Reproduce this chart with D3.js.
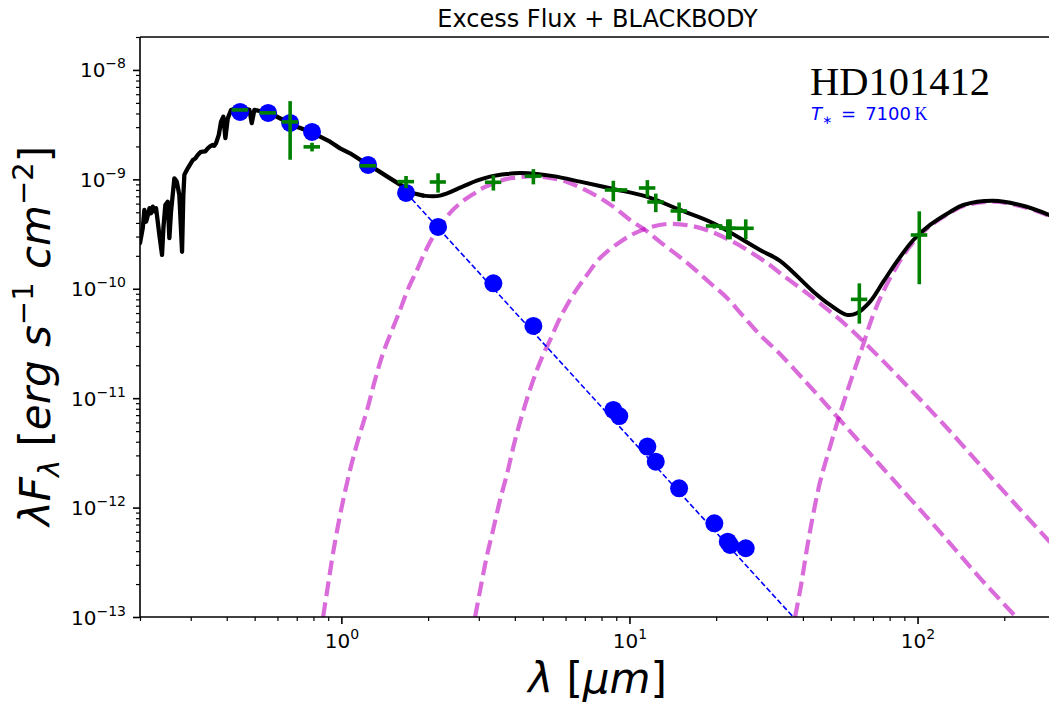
<!DOCTYPE html>
<html>
<head>
<meta charset="utf-8">
<script src="https://cdn.jsdelivr.net/npm/d3@7"></script>
<style>
  html, body { margin: 0; padding: 0; background: #fff; }
  svg { display: block; font-family: "DejaVu Sans", sans-serif; }
</style>
</head>
<body>
<svg id="chart" width="1049" height="706"></svg>
<script>
// ---- Axis ranges and tick labels ----
const xDomain = [0.2, 300];            // wavelength, micron
const yDomain = [1e-13, 2e-8];         // lambda*F_lambda, erg s^-1 cm^-2
const xMajor = [1, 10, 100];
const xMajorExp = ["0", "1", "2"];
const yMajor = [1e-13, 1e-12, 1e-11, 1e-10, 1e-9, 1e-8];
const yMajorExp = ["\u221213", "\u221212", "\u221211", "\u221210", "\u22129", "\u22128"];
const minorMult = [2, 3, 4, 5, 6, 7, 8, 9];

// ---- Stellar spectrum (noisy model atmosphere), micron / erg s^-1 cm^-2 ----
const specWave = [0.200, 0.2045, 0.2071, 0.2100, 0.2125, 0.2157, 0.2185, 0.2215, 0.2245, 0.2274,
  0.2305, 0.2335, 0.2385, 0.2411, 0.2449, 0.2496, 0.2529, 0.2563, 0.2632, 0.2683,
  0.2739, 0.2799, 0.2828, 0.2851, 0.2929, 0.3049, 0.3110, 0.3173, 0.3240, 0.3303,
  0.3370, 0.3438, 0.3510, 0.3577, 0.3620, 0.3673, 0.3754, 0.3823, 0.3894, 0.3957,
  0.4034, 0.4141, 0.4309, 0.4547, 0.4794, 0.4887, 0.4989, 0.5656, 0.6289, 0.7002,
  0.7786, 0.8435, 0.9137, 0.9897, 1.072, 1.192, 1.327, 1.476, 1.641, 1.778, 1.926];
const specFlux = [2.62e-10, 3.60e-10, 5.25e-10, 4.10e-10, 4.60e-10, 5.45e-10, 4.90e-10, 5.63e-10, 5.10e-10, 5.45e-10,
  4.10e-10, 3.10e-10, 2.04e-10, 3.57e-10, 5.83e-10, 6.25e-10, 2.90e-10, 5.07e-10, 1.02e-9, 9.53e-10,
  7.19e-10, 2.18e-10, 7.19e-10, 1.10e-9, 1.26e-9, 1.50e-9, 1.55e-9, 1.67e-9, 1.77e-9, 1.79e-9,
  1.80e-9, 1.92e-9, 2.01e-9, 2.06e-9, 2.03e-9, 2.14e-9, 2.55e-9, 3.37e-9, 3.74e-9, 2.38e-9,
  3.61e-9, 4.31e-9, 4.47e-9, 4.47e-9, 4.31e-9, 3.26e-9, 4.31e-9, 4.02e-9, 3.49e-9, 3.03e-9,
  2.73e-9, 2.46e-9, 2.21e-9, 1.92e-9, 1.73e-9, 1.45e-9, 1.22e-9, 1.02e-9, 8.57e-10, 7.46e-10, 7.10e-10];

// ---- Total model (star + three blackbodies) beyond the optical ----
const modelWave = [1.926, 2.201, 2.624, 2.951, 3.282, 3.751, 4.172, 4.767, 5.443, 6.737,
  8.794, 11.48, 14.98, 19.55, 28.40, 33.32, 43.49, 49.70, 56.79, 61.51,
  68.42, 76.07, 84.71, 96.69, 110.5, 129.7, 144.2, 183.3, 226.9, 286.1, 300];
const modelFlux = [7.10e-10, 7.10e-10, 8.53e-10, 9.73e-10, 1.06e-9, 1.12e-9, 1.14e-9, 1.12e-9, 1.07e-9, 9.53e-10,
  8.17e-10, 6.95e-10, 5.25e-10, 3.97e-10, 2.26e-10, 1.80e-10, 9.40e-11, 7.11e-11, 5.77e-11, 5.97e-11,
  7.62e-11, 1.16e-10, 1.77e-10, 2.79e-10, 3.83e-10, 5.04e-10, 5.83e-10, 6.38e-10, 5.83e-10, 4.73e-10, 4.44e-10];

// ---- Blackbody components ----
const bb1Wave = [0.864, 0.899, 0.936, 0.998, 1.072, 1.143, 1.228, 1.309, 1.396, 1.500,
  1.599, 1.704, 1.831, 1.952, 2.081, 2.237, 2.384, 2.542, 2.732, 2.912,
  3.104, 3.416, 3.759, 4.172, 4.628, 5.302, 6.072, 6.901, 7.906, 8.913,
  10.05, 11.33, 12.77, 14.63, 16.63, 19.05, 21.82, 24.79, 28.40, 32.54,
  36.98, 43.39, 56.93, 74.11, 96.46, 126.6, 164.8, 219.8];
const bb1Flux = [1.00e-13, 1.96e-13, 3.85e-13, 9.51e-13, 2.21e-12, 4.15e-12, 7.80e-12, 1.47e-11, 2.59e-11, 4.20e-11,
  6.40e-11, 9.96e-11, 1.49e-10, 2.17e-10, 2.98e-10, 3.91e-10, 4.93e-10, 5.83e-10, 6.76e-10, 7.51e-10,
  8.34e-10, 9.27e-10, 1.01e-9, 1.05e-9, 1.07e-9, 1.03e-9, 9.47e-10, 8.17e-10, 6.76e-10, 5.48e-10,
  4.25e-10, 3.45e-10, 2.68e-10, 2.04e-10, 1.55e-10, 1.13e-10, 8.24e-11, 5.64e-11, 3.78e-11, 2.70e-11,
  1.89e-11, 1.19e-11, 5.34e-12, 2.45e-12, 1.13e-12, 5.06e-13, 2.27e-13, 1.00e-13];

const bb2Wave = [2.912, 3.055, 3.205, 3.362, 3.554, 3.759, 4.009, 4.343, 4.703, 5.013,
  5.302, 5.742, 6.372, 7.126, 7.906, 9.276, 10.88, 13.51, 17.58, 22.89,
  30.04, 33.32, 43.39, 56.93, 74.11, 96.46, 126.6, 164.8, 214.6, 286.0, 312.3];
const bb2Flux = [1.00e-13, 1.96e-13, 3.69e-13, 6.24e-13, 1.17e-12, 2.03e-12, 4.15e-12, 8.67e-12, 1.63e-11, 2.48e-11,
  3.40e-11, 5.41e-11, 8.78e-11, 1.34e-10, 1.91e-10, 2.68e-10, 3.38e-10, 3.91e-10, 3.60e-10, 2.68e-10,
  1.72e-10, 1.39e-10, 8.24e-11, 4.57e-11, 2.33e-11, 1.14e-11, 5.34e-12, 2.45e-12, 1.13e-12, 4.95e-13, 3.85e-13];

const bb3Wave = [37.57, 39.42, 41.35, 43.39, 45.87, 49.31, 52.98, 58.31, 64.20, 69.52,
  75.91, 84.88, 91.94, 99.60, 110.5, 129.7, 144.2, 183.3, 226.9, 286.1, 300];
const bb3Flux = [1.00e-13, 1.96e-13, 4.27e-13, 8.56e-13, 1.71e-12, 3.36e-12, 6.32e-12, 1.38e-11, 2.88e-11, 5.41e-11,
  9.35e-11, 1.62e-10, 2.25e-10, 2.90e-10, 3.75e-10, 4.94e-10, 5.71e-10, 6.25e-10, 5.71e-10, 4.64e-10, 4.35e-10];

// ---- Photospheric extrapolation (Rayleigh-Jeans) ----
const rjWave = [1.68, 40];
const rjFlux = [7.5e-10, 8.0e-14];

// ---- Photospheric fluxes at the photometric bands ----
const photWave = [0.445, 0.557, 0.664, 0.791, 1.238, 1.677, 2.166, 3.37, 4.64, 8.79,
  9.22, 11.54, 12.34, 14.87, 19.71, 21.94, 22.35, 25.33];
const photFlux = [4.13e-9, 4.05e-9, 3.28e-9, 2.71e-9, 1.355e-9, 7.51e-10, 3.67e-10, 1.122e-10, 4.57e-11, 7.8e-12,
  6.87e-12, 3.61e-12, 2.63e-12, 1.50e-12, 7.18e-13, 4.88e-13, 4.55e-13, 4.25e-13];

// ---- Observed photometry with errors ----
const obsWave = [0.445, 0.557, 0.664, 0.791, 1.238, 1.677, 2.166, 3.37, 4.64, 8.79,
  9.22, 11.54, 12.34, 14.87, 19.71, 21.94, 22.35, 25.33, 62.8, 101.4];
const obsWaveErr = [0.029, 0.037, 0.044, 0.052, 0.082, 0.11, 0.14, 0.22, 0.31, 0.58,
  0.61, 0.76, 0.81, 0.98, 1.3, 1.45, 1.48, 1.67, 4.1, 6.7];
const obsFlux = [4.31e-9, 4.05e-9, 3.35e-9, 1.98e-9, 1.33e-9, 9.53e-10, 9.46e-10, 9.40e-10, 1.07e-9, 8.0e-10,
  8.0e-10, 8.34e-10, 6.21e-10, 5.14e-10, 3.75e-10, 3.57e-10, 3.57e-10, 3.57e-10, 8.0e-11, 3.1e-10];
const obsErr = [5e-11, 5e-11, 1.84e-9, 1.8e-10, 2e-11, 1.2e-10, 1.9e-10, 1.5e-10, 1.7e-10, 1.7e-10,
  3e-11, 1.5e-10, 1.2e-10, 1.0e-10, 2e-11, 7.4e-11, 7.4e-11, 7.4e-11, 3.2e-11, 2.0e-10];

// ---- Text ----
const titleText = "Excess Flux + BLACKBODY";
const starName = "HD101412";
const starTemp = "7100";
const serifFont = "'Liberation Serif', 'Times New Roman', serif";

// ---- Layout ----
const W = 1049, H = 706;
const plotLeft = 140, plotRight = 1055, plotTop = 37, plotBottom = 617;

const x = d3.scaleLog().domain(xDomain).range([plotLeft, plotRight]);
const y = d3.scaleLog().domain(yDomain).range([plotBottom, plotTop]);

const svg = d3.select("#chart");
svg.append("rect").attr("width", W).attr("height", H).attr("fill", "#fff");

svg.append("defs").append("clipPath").attr("id", "plot-clip")
  .append("rect").attr("x", plotLeft).attr("y", plotTop)
  .attr("width", plotRight - plotLeft).attr("height", plotBottom - plotTop);

const plot = svg.append("g").attr("clip-path", "url(#plot-clip)");
const zip = (a, b) => a.map((v, i) => [v, b[i]]);

const smoothLine = d3.line().x(d => x(d[0])).y(d => y(d[1])).curve(d3.curveCatmullRom.alpha(0.5));
const straightLine = d3.line().x(d => x(d[0])).y(d => y(d[1]));

// blackbody components (dashed magenta)
[[bb1Wave, bb1Flux], [bb2Wave, bb2Flux], [bb3Wave, bb3Flux]].forEach(([w, f]) => {
  plot.append("path")
    .attr("d", smoothLine(zip(w, f)))
    .attr("fill", "none")
    .attr("stroke", "rgb(191,0,191)")
    .attr("stroke-opacity", 0.58)
    .attr("stroke-width", 4.2)
    .attr("stroke-dasharray", "14.8,6.4");
});

// photospheric extrapolation (thin blue dashes)
plot.append("path")
  .attr("d", straightLine(zip(rjWave, rjFlux)))
  .attr("fill", "none")
  .attr("stroke", "#0000ff")
  .attr("stroke-width", 1.6)
  .attr("stroke-dasharray", "5.5,2.6");

// stellar spectrum + total model (black)
plot.append("path")
  .attr("d", straightLine(zip(specWave, specFlux)))
  .attr("fill", "none").attr("stroke", "#000")
  .attr("stroke-width", 4.3).attr("stroke-linejoin", "round").attr("stroke-linecap", "round");
plot.append("path")
  .attr("d", smoothLine(zip(modelWave, modelFlux)))
  .attr("fill", "none").attr("stroke", "#000")
  .attr("stroke-width", 4).attr("stroke-linejoin", "round").attr("stroke-linecap", "round");

// photospheric band fluxes
plot.append("g").selectAll("circle")
  .data(zip(photWave, photFlux))
  .join("circle")
  .attr("cx", d => x(d[0]))
  .attr("cy", d => y(d[1]))
  .attr("r", 9)
  .attr("fill", "#0000ff");

// observed photometry with error bars
const obs = obsWave.map((w, i) => ({ w, we: obsWaveErr[i], f: obsFlux[i], fe: obsErr[i] }));
const eb = plot.append("g").attr("stroke", "#008000").attr("stroke-width", 3.6);
eb.selectAll("line.v").data(obs).join("line").attr("class", "v")
  .attr("x1", d => x(d.w)).attr("x2", d => x(d.w))
  .attr("y1", d => y(d.f + d.fe)).attr("y2", d => y(Math.max(d.f - d.fe, 1e-14)));
eb.selectAll("line.h").data(obs).join("line").attr("class", "h")
  .attr("x1", d => x(d.w - d.we)).attr("x2", d => x(d.w + d.we))
  .attr("y1", d => y(d.f)).attr("y2", d => y(d.f));

// ---- Axes ----
const yMinor = [];
for (let e = -13; e <= -8; e++) minorMult.forEach(m => {
  const v = m * Math.pow(10, e);
  if (v <= yDomain[1] * 1.0001) yMinor.push(v);
});
const xMinor = [];
for (let e = -1; e <= 2; e++) minorMult.forEach(m => {
  const v = m * Math.pow(10, e);
  if (v >= xDomain[0] * 0.9999 && v <= xDomain[1] * 1.0001) xMinor.push(v);
});

function styleAxis(g, width) {
  g.select(".domain").remove();
  g.selectAll(".tick line").attr("stroke", "#000").attr("stroke-width", width);
}

const gyMinor = svg.append("g").attr("transform", `translate(${plotLeft},0)`)
  .call(d3.axisLeft(y).tickValues(yMinor).tickSize(4).tickFormat(() => ""));
styleAxis(gyMinor, 1.2);

const gy = svg.append("g").attr("transform", `translate(${plotLeft},0)`)
  .call(d3.axisLeft(y).tickValues(yMajor).tickSize(7).tickPadding(7).tickFormat(() => ""));
styleAxis(gy, 1.6);
gy.attr("font-family", null).attr("font-size", null);
gy.selectAll(".tick text").each(function (d, i) {
  const t = d3.select(this);
  t.text(null).attr("dy", null).attr("y", 7)
    .style("font-size", "20px").style("font-family", "'DejaVu Sans', sans-serif").attr("fill", "#000");
  t.append("tspan").text("10");
  t.append("tspan").attr("dy", -9).style("font-size", "14px").text(yMajorExp[i]);
});

const gxMinor = svg.append("g").attr("transform", `translate(0,${plotBottom})`)
  .call(d3.axisBottom(x).tickValues(xMinor).tickSize(4).tickFormat(() => ""));
styleAxis(gxMinor, 1.2);

const gx = svg.append("g").attr("transform", `translate(0,${plotBottom})`)
  .call(d3.axisBottom(x).tickValues(xMajor).tickSize(7).tickPadding(7).tickFormat(() => ""));
styleAxis(gx, 1.6);
gx.attr("font-family", null).attr("font-size", null);
gx.selectAll(".tick text").each(function (d, i) {
  const t = d3.select(this);
  t.text(null).attr("dy", null).attr("y", 31)
    .style("font-size", "20px").style("font-family", "'DejaVu Sans', sans-serif").attr("fill", "#000");
  t.append("tspan").text("10");
  t.append("tspan").attr("dy", -9).style("font-size", "14px").text(xMajorExp[i]);
});

// spines
const spines = svg.append("g").attr("stroke", "#000").attr("stroke-width", 1.6);
spines.append("line").attr("x1", plotLeft).attr("x2", plotLeft).attr("y1", plotTop).attr("y2", plotBottom);
spines.append("line").attr("x1", plotLeft).attr("x2", plotRight).attr("y1", plotBottom).attr("y2", plotBottom);
spines.append("line").attr("x1", plotLeft).attr("x2", plotRight).attr("y1", plotTop).attr("y2", plotTop);
spines.append("line").attr("x1", plotRight).attr("x2", plotRight).attr("y1", plotTop).attr("y2", plotBottom);

// title
svg.append("text")
  .attr("x", (plotLeft + plotRight) / 2).attr("y", 27)
  .attr("text-anchor", "middle").style("font-size", "24px").attr("fill", "#000")
  .text(titleText);

// x label: lambda [mu m]
const xl = svg.append("text")
  .attr("x", (plotLeft + plotRight) / 2).attr("y", 693)
  .attr("text-anchor", "middle").style("font-size", "42px").attr("fill", "#000")
  .style("white-space", "pre");
xl.append("tspan").style("font-style", "italic").text("\u03bb");
xl.append("tspan").text(" [");
xl.append("tspan").style("font-style", "italic").text("\u03bcm");
xl.append("tspan").text("]");

// y label: lambda F_lambda [erg s^-1 cm^-2]
const yl = svg.append("text")
  .attr("transform", "translate(50,336) rotate(-90)")
  .attr("text-anchor", "middle").style("font-size", "42px").attr("fill", "#000")
  .style("white-space", "pre");
yl.append("tspan").style("font-style", "italic").text("\u03bbF");
yl.append("tspan").style("font-style", "italic").style("font-size", "29px").attr("dy", 9).text("\u03bb");
yl.append("tspan").attr("dy", -9).text(" [");
yl.append("tspan").style("font-style", "italic").text("erg s");
yl.append("tspan").style("font-size", "29px").attr("dy", -17).text("\u22121");
yl.append("tspan").attr("dy", 17).text(" ");
yl.append("tspan").style("font-style", "italic").text("cm");
yl.append("tspan").style("font-size", "29px").attr("dy", -17).text("\u22122");
yl.append("tspan").attr("dy", 17).text("]");

// star annotation
svg.append("text")
  .attr("x", 810).attr("y", 94.5)
  .style("font-family", serifFont)
  .style("font-size", "40.5px").attr("fill", "#000")
  .text(starName);

const tl = svg.append("text")
  .attr("x", 811).attr("y", 120)
  .style("font-size", "18px").attr("fill", "#0000ff")
  .style("white-space", "pre");
tl.append("tspan").style("font-style", "italic").text("T");
tl.append("tspan").style("font-size", "12px").attr("dy", 4).text("\u2217");
tl.append("tspan").attr("dy", -4).text("\u2002=\u2002" + starTemp + "\u2009");
tl.append("tspan").style("font-family", serifFont).text("K");
</script>
</body>
</html>
